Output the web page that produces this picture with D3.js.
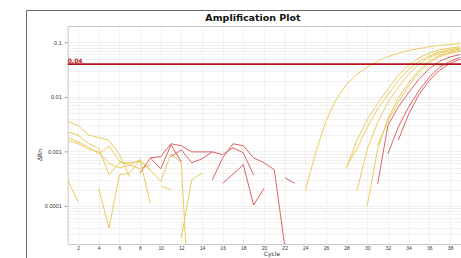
<!DOCTYPE html>
<html>
<head>
<meta charset="utf-8">
<script src="https://cdn.jsdelivr.net/npm/d3@7"></script>
<style>
  body { margin: 0; background: #fff; }
  svg { display: block; font-family: "DejaVu Sans", sans-serif; }
  .tick text { fill: #333; }
</style>
</head>
<body>
<div id="chart"></div>
<script>
// x ticks (cycles) and y ticks (delta Rn, log)
const cycleTicks = [2, 4, 6, 8, 10, 12, 14, 16, 18, 20, 22, 24, 26, 28, 30, 32, 34, 36, 38];
const rnTicks = [0.0001, 0.001, 0.01, 0.1];
const rnTickLabels = ['0.0001', '0.001', '0.01', '0.1'];
const threshold = 0.04;

// each trace: first cycle + values per cycle
const yellowStarts = [1, 1, 1, 1, 1, 4, 10, 12, 24, 28, 28, 29, 30, 31];
const yellowValues = [
  [0.0035, 0.003, 0.002, 0.0018, 0.0016, 0.00088, 0.00034],
  [0.0023, 0.002, 0.0014, 0.00115, 0.00037, 0.00062, 0.00062, 0.00066, 0.00045],
  [0.0018, 0.0015, 0.0012, 0.0009, 0.00125, 0.00066, 0.00056, 0.0007, 0.00011],
  [0.0016, 0.0014, 0.0011, 0.00098, 0.0006, 0.0005, 0.00056, 0.00048, 0.00058],
  [0.0003, 0.00012],
  [0.00021, 0.000039, 0.00037, 0.0004, 0.0007, 0.00046, 0.00028, 0.0009, 0.00062, 0.0000002],
  [0.00023, 0.0002],
  [0.000026, 0.0003, 0.0004],
  [0.00019, 0.00094, 0.0036, 0.009, 0.017, 0.026, 0.035, 0.045, 0.055, 0.063, 0.071, 0.077, 0.083, 0.088, 0.092, 0.095],
  [0.0005, 0.0016, 0.0038, 0.0075, 0.014, 0.025, 0.038, 0.052, 0.064, 0.073, 0.079, 0.083],
  [0.00055, 0.0011, 0.0028, 0.006, 0.011, 0.02, 0.032, 0.045, 0.057, 0.067, 0.074, 0.079],
  [0.00019, 0.0011, 0.0034, 0.008, 0.015, 0.026, 0.04, 0.053, 0.063, 0.07, 0.075],
  [0.0001, 0.0011, 0.004, 0.0095, 0.018, 0.031, 0.046, 0.058, 0.066, 0.072],
  [0.0013, 0.0036, 0.008, 0.016, 0.028, 0.043, 0.055, 0.063, 0.069]
];
const redStarts = [8, 9, 11, 15, 16, 22, 31, 32, 33];
const redValues = [
  [0.0004, 0.00076, 0.0008, 0.00138, 0.00127, 0.00098, 0.00098, 0.00098, 0.00087, 0.00117, 0.00094, 0.00037],
  [0.00076, 0.00048, 0.00132, 0.00064],
  [0.0008, 0.00107, 0.00062, 0.00073, 0.00098],
  [0.0003, 0.00076, 0.00138, 0.00127, 0.00076, 0.00062, 0.00046, 0.000019],
  [0.00026, 0.00038, 0.00057, 0.000104, 0.00021],
  [0.00033, 0.00026],
  [0.00025, 0.003, 0.0065, 0.012, 0.021, 0.033, 0.045, 0.054, 0.06],
  [0.0009, 0.0028, 0.0065, 0.013, 0.023, 0.035, 0.045, 0.053],
  [0.0016, 0.0048, 0.011, 0.02, 0.031, 0.041, 0.049]
];

const width = 461;
const height = 258;
const plot = { left: 67.7, top: 26, bottom: 244 };

const svg = d3.select('#chart').append('svg')
  .attr('width', width)
  .attr('height', height);

const x = d3.scaleLinear()
  .domain([1, 40])
  .range([plot.left, plot.left + 39 * 10.33]);
const y = d3.scaleLog()
  .domain([2e-5, 0.2])
  .range([plot.bottom, plot.top]);

// outer frame (goes off the right edge)
svg.append('path')
  .attr('d', `M26.5,${height} V10.5 H${width}`)
  .attr('fill', 'none')
  .attr('stroke', '#666')
  .attr('stroke-width', 1);

svg.append('text')
  .attr('x', 253)
  .attr('y', 21)
  .attr('text-anchor', 'middle')
  .attr('font-size', 9.5)
  .attr('font-weight', 'bold')
  .attr('fill', '#111')
  .text('Amplification Plot');

svg.append('defs').append('clipPath')
  .attr('id', 'clip')
  .append('rect')
  .attr('x', plot.left)
  .attr('y', plot.top)
  .attr('width', width - plot.left)
  .attr('height', plot.bottom - plot.top);

// grid
const minor = [];
[1e-5, 1e-4, 1e-3, 1e-2, 1e-1].forEach((d) => {
  for (let k = 1; k < 10; k++) {
    const v = d * k;
    if (v >= 2e-5 && v <= 0.2) minor.push(v);
  }
});
const grid = svg.append('g');
grid.selectAll('.hgrid')
  .data(minor)
  .enter().append('line')
  .attr('x1', plot.left)
  .attr('x2', width)
  .attr('y1', d => Math.round(y(d)) + 0.5)
  .attr('y2', d => Math.round(y(d)) + 0.5)
  .attr('stroke', '#e4e4e4')
  .attr('stroke-dasharray', '1,1');
grid.selectAll('.vgrid')
  .data(cycleTicks)
  .enter().append('line')
  .attr('x1', d => Math.round(x(d)) + 0.5)
  .attr('x2', d => Math.round(x(d)) + 0.5)
  .attr('y1', plot.top)
  .attr('y2', plot.bottom)
  .attr('stroke', '#e4e4e4')
  .attr('stroke-dasharray', '1,1');

// plot border
svg.append('path')
  .attr('d', `M${width},${plot.top + 0.5} H${plot.left + 0.5} V${plot.bottom + 0.5} H${width}`)
  .attr('fill', 'none')
  .attr('stroke', '#c8c8c8');

// axes
svg.append('g')
  .attr('transform', `translate(${plot.left},0)`)
  .call(d3.axisLeft(y)
    .tickValues(rnTicks)
    .tickFormat((d, i) => rnTickLabels[i])
    .tickSize(3)
    .tickPadding(3))
  .call(g => g.select('.domain').remove())
  .call(g => g.selectAll('line').attr('stroke', '#999'))
  .call(g => g.selectAll('text').attr('font-size', 5.5));

svg.append('g')
  .attr('transform', `translate(0,${plot.bottom})`)
  .call(d3.axisBottom(x)
    .tickValues(cycleTicks)
    .tickFormat(d3.format('d'))
    .tickSize(0)
    .tickPadding(2.5))
  .call(g => g.select('.domain').remove())
  .call(g => g.selectAll('text').attr('font-size', 5));

svg.append('text')
  .attr('transform', 'translate(42,155) rotate(-90)')
  .attr('text-anchor', 'middle')
  .attr('font-size', 6)
  .attr('fill', '#333')
  .text('ΔRn');

svg.append('text')
  .attr('x', 272)
  .attr('y', 256.4)
  .attr('text-anchor', 'middle')
  .attr('font-size', 6)
  .attr('fill', '#333')
  .text('Cycle');

// traces
const line = d3.line()
  .x(d => x(d[0]))
  .y(d => y(d[1]));
const toPoints = (start, vals) => vals.map((v, i) => [start + i, v]);

const traces = svg.append('g').attr('clip-path', 'url(#clip)');
traces.selectAll('.yellow')
  .data(yellowValues.map((vals, i) => toPoints(yellowStarts[i], vals)))
  .enter().append('path')
  .attr('d', line)
  .attr('fill', 'none')
  .attr('stroke', '#eacb5e')
  .attr('stroke-width', 1);
traces.selectAll('.red')
  .data(redValues.map((vals, i) => toPoints(redStarts[i], vals)))
  .enter().append('path')
  .attr('d', line)
  .attr('fill', 'none')
  .attr('stroke', '#e06262')
  .attr('stroke-width', 1);

// threshold
svg.append('line')
  .attr('x1', plot.left)
  .attr('x2', width)
  .attr('y1', y(threshold))
  .attr('y2', y(threshold))
  .attr('stroke', '#b3121a')
  .attr('stroke-width', 1.8);
svg.append('text')
  .attr('x', plot.left)
  .attr('y', y(threshold) - 1.5)
  .attr('font-size', 6)
  .attr('font-weight', 'bold')
  .attr('fill', '#c0141c')
  .text('0.04');
</script>
</body>
</html>
